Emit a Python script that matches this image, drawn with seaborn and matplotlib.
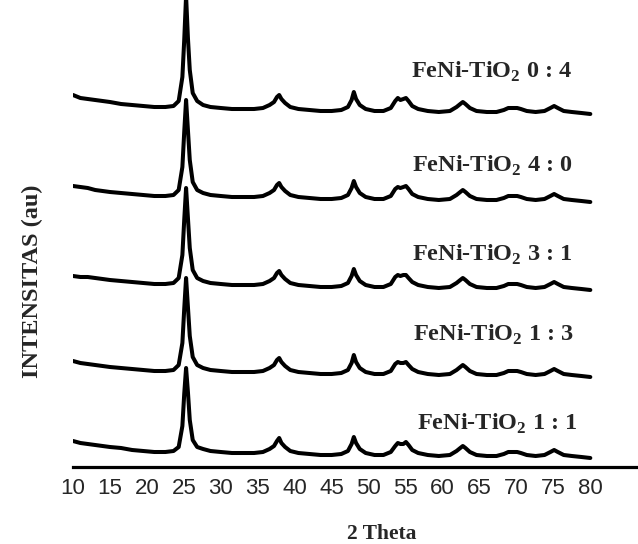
"""
XRD patterns of FeNi-TiO2 samples, stacked
"""
import numpy as np
import pandas as pd
import matplotlib
matplotlib.use("Agg")
import matplotlib.pyplot as plt
import seaborn as sns

# 2 theta sampling points (shared by all traces)
two_theta = [10, 11, 12, 13, 14, 15, 16.5, 18, 19.5, 21,
             22.5, 23.6, 24.3, 24.8, 25.05, 25.3, 25.55, 25.8, 26.2, 26.8,
             27.6, 28.6, 30, 31.5, 33, 34.5, 35.7, 36.6, 37.2, 37.6,
             37.9, 38.2, 38.7, 39.4, 40.5, 42, 43.5, 45, 46.3, 47.2,
             47.7, 48.0, 48.3, 48.8, 49.6, 50.8, 52, 53.0, 53.6, 53.95,
             54.3, 54.7, 55.05, 55.4, 55.9, 56.7, 58, 59.5, 61, 61.9,
             62.4, 62.75, 63.1, 63.7, 64.6, 66, 67.3, 68.3, 68.9, 69.5,
             70.1, 70.6, 71.4, 72.6, 73.8, 74.6, 75.1, 75.6, 76.4, 77.5,
             78.8, 80]

# intensities (au), relative to each trace's own baseline
int_04 = [19, 16, 15, 14, 13, 12, 10, 9, 8, 7,
          7, 8, 13, 37, 74, 118, 76, 44, 21, 13,
          9, 7, 6, 5, 5, 5, 6, 9, 12, 17,
          19, 15, 11, 7, 5, 4, 3, 3, 4, 7,
          14, 22, 15, 9, 5, 3, 3, 6, 13, 16,
          14, 15, 16, 13, 8, 5, 3, 2, 3, 7,
          10, 12, 10, 6, 3, 2, 2, 4, 6, 6,
          6, 5, 3, 2, 3, 6, 8, 6, 3, 2,
          1, 0]
int_40 = [16, 15, 14, 12, 11, 10, 9, 8, 7, 6,
          6, 7, 12, 35, 70, 102, 72, 42, 20, 12,
          9, 7, 6, 5, 5, 5, 6, 9, 12, 17,
          19, 15, 11, 7, 5, 4, 3, 3, 4, 7,
          14, 21, 15, 9, 5, 3, 3, 6, 13, 15,
          14, 15, 16, 13, 8, 5, 3, 2, 3, 7,
          10, 12, 10, 6, 3, 2, 2, 4, 6, 6,
          6, 5, 3, 2, 3, 6, 8, 6, 3, 2,
          1, 0]
int_31 = [14, 13, 13, 12, 11, 10, 9, 8, 7, 6,
          6, 7, 12, 35, 70, 102, 72, 42, 20, 12,
          9, 7, 6, 5, 5, 5, 6, 9, 12, 17,
          19, 15, 11, 7, 5, 4, 3, 3, 4, 7,
          14, 21, 15, 9, 5, 3, 3, 6, 13, 15,
          14, 15, 15, 12, 8, 5, 3, 2, 3, 7,
          10, 12, 10, 6, 3, 2, 2, 4, 6, 6,
          6, 5, 3, 2, 3, 6, 8, 6, 3, 2,
          1, 0]
int_13 = [16, 14, 13, 12, 11, 10, 9, 8, 7, 6,
          6, 7, 12, 34, 68, 99, 70, 41, 20, 12,
          9, 7, 6, 5, 5, 5, 6, 9, 12, 17,
          19, 15, 11, 7, 5, 4, 3, 3, 4, 7,
          14, 22, 15, 9, 5, 3, 3, 6, 13, 15,
          14, 14, 15, 12, 8, 5, 3, 2, 3, 7,
          10, 12, 10, 6, 3, 2, 2, 4, 6, 6,
          6, 5, 3, 2, 3, 6, 8, 6, 3, 2,
          1, 0]
int_11 = [17, 15, 14, 13, 12, 11, 10, 8, 7, 6,
          6, 7, 11, 32, 64, 90, 66, 38, 18, 11,
          9, 7, 6, 5, 5, 5, 6, 9, 12, 17,
          20, 15, 11, 7, 5, 4, 3, 3, 4, 7,
          14, 21, 15, 9, 5, 3, 3, 6, 12, 15,
          14, 14, 16, 13, 8, 5, 3, 2, 3, 7,
          10, 12, 10, 6, 3, 2, 2, 4, 6, 6,
          6, 5, 3, 2, 3, 6, 8, 6, 3, 2,
          1, 0]

samples = ['0 : 4', '4 : 0', '3 : 1', '1 : 3', '1 : 1']
offsets = [353, 265, 177, 90, 9]
label_x = [66.6, 66.7, 66.7, 66.9, 67.4]
label_y = [395, 301, 212, 132, 43]
xtick_values = [10, 15, 20, 25, 30, 35, 40, 45, 50, 55, 60, 65, 70, 75, 80]

# long-form table for seaborn
series = [int_04, int_40, int_31, int_13, int_11]
frames = []
for name, vals, off in zip(samples, series, offsets):
    frames.append(pd.DataFrame({
        'two_theta': two_theta,
        'intensity': np.array(vals) + off,
        'sample': name,
    }))
df = pd.concat(frames, ignore_index=True)

sns.set_style("white")
plt.rcParams['font.family'] = ['Liberation Serif', 'DejaVu Sans']

fig = plt.figure(figsize=(6.38, 5.44), dpi=100)
ax = fig.add_axes([73 / 638, 1 - 467 / 544, 565 / 638, 467 / 544])

sns.lineplot(data=df, x='two_theta', y='intensity', hue='sample',
             palette=['black'] * len(samples), legend=False,
             estimator=None, sort=False, linewidth=2.9, ax=ax)

ax.set_xlim(10, 86.45)
ax.set_ylim(0, 467)
for side in ['left', 'top', 'right']:
    ax.spines[side].set_visible(False)
ax.spines['bottom'].set_linewidth(2.3)
ax.spines['bottom'].set_color('black')
ax.set_yticks([])
ax.set_xticks(xtick_values)
ax.set_xticklabels([str(v) for v in xtick_values],
                   fontfamily='Liberation Sans', fontsize=16)
ax.tick_params(axis='x', length=0, pad=8)
ax.set_xlabel('')
ax.set_ylabel('')

for name, lx, ly in zip(samples, label_x, label_y):
    ax.text(lx, ly, 'FeNi-TiO$_\\mathregular{2}$ ' + name,
            ha='center', va='center', fontsize=17.5, fontweight='bold')

fig.text(382 / 638, 1 - 534 / 544, '2 Theta', ha='center', va='center',
         fontsize=15.5, fontweight='bold')
fig.text(32 / 638, 1 - 281 / 544, 'INTENSITAS (au)', rotation=90,
         ha='center', va='center', fontsize=17.5, fontweight='bold')

plt.savefig('out.png', dpi=100)
